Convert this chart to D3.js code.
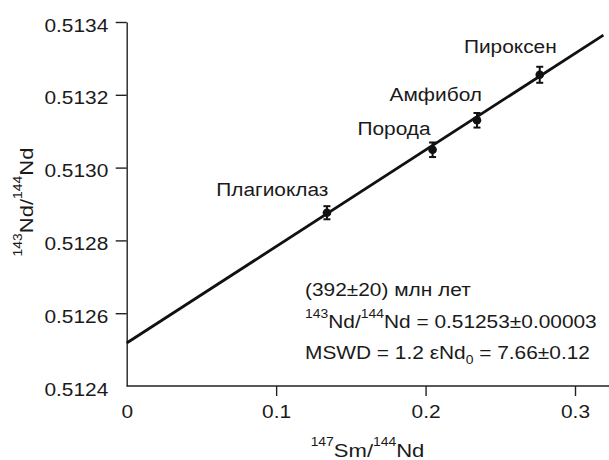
<!DOCTYPE html>
<html><head><meta charset="utf-8">
<script src="https://cdn.jsdelivr.net/npm/d3@7"></script>
<style>
html,body{margin:0;padding:0;background:#fff;}
svg{display:block;}
text{font-family:"Liberation Sans",Arial,Helvetica,sans-serif;fill:#1a1a1a;}
</style></head>
<body>
<script>
// ---- data ----
const minerals = ["Плагиоклаз", "Порода", "Амфибол", "Пироксен"];
const smNd = [0.134, 0.2047, 0.2344, 0.2764];
const ndNd = [0.512876, 0.513049, 0.51313, 0.513255];
const ndErr = [0.000018, 0.00002, 0.00002, 0.000022];
const isochronX = [0, 0.319];
const isochronY = [0.512518, 0.513364];
const xTickValues = [0, 0.1, 0.2, 0.3];
const xTickLabels = ["0", "0.1", "0.2", "0.3"];
const yTickValues = [0.5124, 0.5126, 0.5128, 0.5130, 0.5132, 0.5134];
const yTickLabels = ["0.5124", "0.5126", "0.5128", "0.5130", "0.5132", "0.5134"];
const ageText = "(392±20) млн лет";
const initText = ["143", "Nd/", "144", "Nd = 0.51253±0.00003"];
const mswdText = ["MSWD = 1.2 εNd", "0", " = 7.66±0.12"];

// ---- layout ----
const W = 609, H = 460;
const SX = 1.16; // horizontal stretch of the typeface
const FS = 18;
const labelOffsets = [[1.5, -17], [-2, -15], [5, -19], [17, -22]];

const svg = d3.select("body").append("svg").attr("width", W).attr("height", H);

const x = d3.scaleLinear().domain([0, 0.3]).range([126.7, 575]);
const y = d3.scaleLinear().domain([0.5124, 0.5134]).range([386, 22]);
const xMax = x.invert(W);

function stretched(sel, px, py) {
  return sel.attr("transform", `translate(${px},${py}) scale(${SX},1)`);
}

// y axis
const yAxis = d3.axisLeft(y).tickValues(yTickValues)
  .tickFormat((d, i) => yTickLabels[i]).tickSize(11).tickSizeOuter(0);
const gy = svg.append("g").attr("transform", `translate(${x(0)},0)`).call(yAxis);
gy.select(".domain").attr("stroke", "#222").attr("stroke-width", 1.4);
gy.selectAll(".tick line").attr("stroke", "#222").attr("stroke-width", 1.4)
  .attr("display", (d, i) => i === 0 ? "none" : null);
gy.selectAll(".tick text").attr("x", null).attr("dy", null)
  .attr("font-size", FS).attr("fill", "#1a1a1a")
  .attr("font-family", "'Liberation Sans',Arial,sans-serif")
  .attr("transform", `translate(-18.4,9) scale(${SX},1)`);

// x axis
const xAxis = d3.axisBottom(x).tickValues(xTickValues)
  .tickFormat((d, i) => xTickLabels[i]).tickSize(10).tickSizeOuter(0);
const gx = svg.append("g").attr("transform", `translate(0,${y(0.5124)})`).call(xAxis);
gx.select(".domain").attr("d", `M${x(0)},0H${W}`).attr("stroke", "#222").attr("stroke-width", 1.4);
gx.selectAll(".tick line").attr("stroke", "#222").attr("stroke-width", 1.4)
  .attr("display", (d, i) => i === 0 ? "none" : null);
gx.selectAll(".tick text").attr("y", null).attr("dy", null)
  .attr("font-size", FS).attr("fill", "#1a1a1a")
  .attr("font-family", "'Liberation Sans',Arial,sans-serif")
  .attr("transform", `translate(0,32) scale(${SX},1)`);

// isochron line
svg.append("line")
  .attr("x1", x(isochronX[0])).attr("y1", y(isochronY[0]))
  .attr("x2", x(isochronX[1])).attr("y2", y(isochronY[1]))
  .attr("stroke", "#111").attr("stroke-width", 2.8);

// points with error bars
const pts = smNd.map((v, i) => ({ x: v, y: ndNd[i], e: ndErr[i], name: minerals[i], off: labelOffsets[i] }));
const gp = svg.append("g");
pts.forEach(p => {
  const cx = x(p.x);
  gp.append("line").attr("x1", cx).attr("x2", cx).attr("y1", y(p.y - p.e)).attr("y2", y(p.y + p.e))
    .attr("stroke", "#111").attr("stroke-width", 2);
  [p.y - p.e, p.y + p.e].forEach(v => gp.append("line")
    .attr("x1", cx - 3.5).attr("x2", cx + 3.5).attr("y1", y(v)).attr("y2", y(v))
    .attr("stroke", "#111").attr("stroke-width", 2));
  gp.append("circle").attr("cx", cx).attr("cy", y(p.y)).attr("r", 4.3).attr("fill", "#111");
  stretched(svg.append("text"), cx + p.off[0], y(p.y) + p.off[1])
    .attr("text-anchor", "end").attr("font-size", FS).text(p.name);
});

// axis titles
const xt = stretched(svg.append("text"), 367.5, 457).attr("text-anchor", "middle").attr("font-size", 19);
xt.append("tspan").attr("font-size", 12).attr("dy", -11).text("147");
xt.append("tspan").attr("dy", 11).text("Sm/");
xt.append("tspan").attr("font-size", 12).attr("dy", -11).text("144");
xt.append("tspan").attr("dy", 11).text("Nd");

const yt = svg.append("text").attr("transform", `translate(33,202) rotate(-90) scale(${SX},1)`)
  .attr("text-anchor", "middle").attr("font-size", 19);
yt.append("tspan").attr("font-size", 12).attr("dy", -11).text("143");
yt.append("tspan").attr("dy", 11).text("Nd/");
yt.append("tspan").attr("font-size", 12).attr("dy", -11).text("144");
yt.append("tspan").attr("dy", 11).text("Nd");

// annotation
stretched(svg.append("text"), 305, 295.5).attr("font-size", FS).text(ageText);
const t2 = stretched(svg.append("text"), 305, 327.5).attr("font-size", FS);
t2.append("tspan").attr("font-size", 12).attr("dy", -10).text(initText[0]);
t2.append("tspan").attr("dy", 10).text(initText[1]);
t2.append("tspan").attr("font-size", 12).attr("dy", -10).text(initText[2]);
t2.append("tspan").attr("dy", 10).text(initText[3]);
const t3 = stretched(svg.append("text"), 305, 359.3).attr("font-size", FS);
t3.append("tspan").text(mswdText[0]);
t3.append("tspan").attr("font-size", 12).attr("dy", 5).text(mswdText[1]);
t3.append("tspan").attr("dy", -5).text(mswdText[2]);
</script>
</body></html>
